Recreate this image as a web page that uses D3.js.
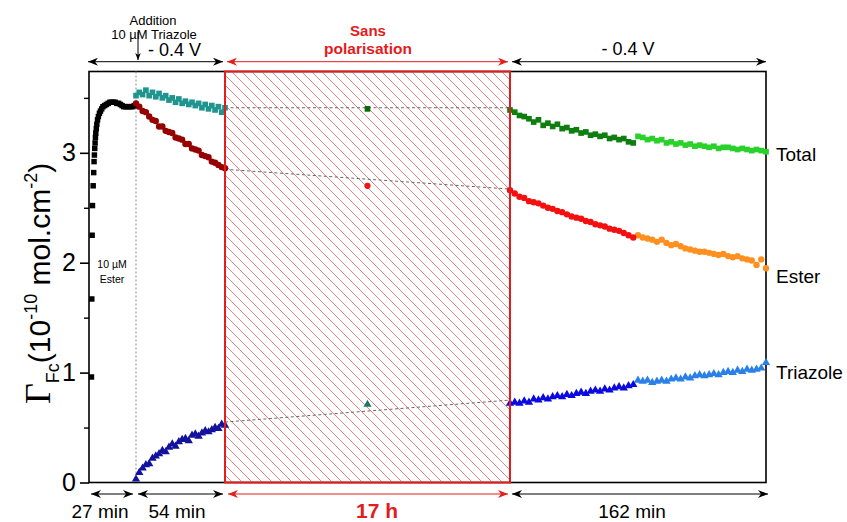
<!DOCTYPE html>
<html><head><meta charset="utf-8">
<script src="https://cdn.jsdelivr.net/npm/d3@7"></script>
<style>
body{margin:0;background:#fff}
svg{display:block;font-family:"Liberation Sans",Arial,sans-serif}
</style>
</head><body>
<svg id="chart" width="847" height="522"></svg>
<script>
// ---------------- DATA ----------------
// time axis (minutes, broken: 27 min | 54 min | 17 h | 162 min)
const segmentBreaks = [0, 27, 81, 1101, 1263];
const segmentLabels = ["27 min", "54 min", "17 h", "162 min"];
const yTicksMajor = [0, 1, 2, 3];
const yTicksMinor = [0.5, 1.5, 2.5, 3.5];
const seriesLabels = ["Total", "Ester", "Triazole"];

// 1) 10 µM Ester alone (Total)
const timeBefore = [1.4,1.6,1.8,2.0,2.4,2.7,2.9,3.1,3.3,3.5,3.7,3.9,4.2,4.5,4.9,5.4,6.0,6.6,7.3,8,9,10,11,12,13,14,15,16,17,18,19,20,21,22,23,24,25,26,27];
const totalBefore = [0.96,1.67,2.25,2.52,2.70,2.82,2.92,2.98,3.04,3.09,3.14,3.18,3.22,3.26,3.30,3.33,3.36,3.38,3.40,3.42,3.43,3.44,3.45,3.46,3.46,3.46,3.46,3.45,3.45,3.44,3.43,3.42,3.42,3.42,3.42,3.42,3.42,3.43,3.43];

// 2) after addition of 10 µM Triazole, -0.4 V (54 min)
const timeAfterAdd = [27,29,31,33,35,37,39,41,43,45,47,49,51,53,55,57,59,61,63,65,67,69,71,73,75,77,79,81];
const totalAfterAdd = [3.52,3.55,3.53,3.57,3.52,3.55,3.51,3.54,3.50,3.52,3.48,3.50,3.46,3.49,3.45,3.47,3.44,3.46,3.43,3.45,3.41,3.44,3.40,3.43,3.39,3.42,3.37,3.41];
const esterAfterAdd = [3.45,3.42,3.38,3.37,3.33,3.30,3.29,3.24,3.24,3.20,3.19,3.18,3.14,3.13,3.12,3.08,3.08,3.04,3.03,3.02,2.98,2.97,2.96,2.92,2.91,2.89,2.87,2.86];
const triazoleAfterAdd = [0.03,0.09,0.13,0.16,0.17,0.22,0.24,0.26,0.29,0.28,0.32,0.35,0.33,0.37,0.39,0.40,0.38,0.43,0.44,0.42,0.45,0.47,0.46,0.48,0.50,0.49,0.53,0.52];

// 3) 17 h without polarisation (single measurement)
const timeMid = [591];
const totalMid = [3.40];
const esterMid = [2.70];
const triazoleMid = [0.71];
const gapTime = [81, 1101];
const gapTotal = [3.41, 3.41];
const gapEster = [2.85, 2.67];
const gapTriazole = [0.55, 0.75];

// 4) -0.4 V again (162 min), first and second halves
const timeLateA = [1101,1104,1107,1110,1113,1116,1119,1122,1125,1128,1131,1134,1137,1140,1143,1146,1149,1152,1155,1158,1161,1164,1167,1170,1173,1176,1179];
const timeLateB = [1182,1185,1188,1191,1194,1197,1200,1203,1206,1209,1212,1215,1218,1221,1224,1227,1230,1233,1236,1239,1242,1245,1248,1251,1254,1257,1260,1263];
const totalLateA = [3.39,3.37,3.34,3.33,3.31,3.28,3.30,3.25,3.27,3.24,3.26,3.22,3.23,3.20,3.21,3.18,3.19,3.16,3.17,3.15,3.16,3.13,3.14,3.12,3.13,3.10,3.09];
const totalLateB = [3.15,3.14,3.12,3.13,3.11,3.12,3.09,3.10,3.08,3.09,3.07,3.08,3.06,3.07,3.06,3.05,3.06,3.04,3.05,3.05,3.04,3.03,3.04,3.03,3.02,3.03,3.02,3.01];
const esterLateA = [2.66,2.63,2.60,2.59,2.56,2.55,2.54,2.52,2.50,2.49,2.47,2.46,2.44,2.42,2.41,2.40,2.38,2.37,2.35,2.34,2.33,2.31,2.30,2.29,2.27,2.25,2.23];
const esterLateB = [2.25,2.23,2.22,2.21,2.19,2.21,2.18,2.16,2.17,2.15,2.13,2.12,2.11,2.10,2.10,2.09,2.08,2.07,2.08,2.06,2.05,2.06,2.04,2.03,2.02,1.98,2.03,1.95];
const triazoleLateA = [0.72,0.73,0.72,0.74,0.73,0.76,0.75,0.77,0.76,0.78,0.79,0.78,0.80,0.79,0.81,0.82,0.81,0.83,0.84,0.83,0.85,0.84,0.86,0.87,0.86,0.88,0.89];
const triazoleLateB = [0.93,0.92,0.93,0.91,0.92,0.93,0.92,0.94,0.95,0.94,0.96,0.95,0.97,0.98,0.97,0.98,0.99,0.98,1.00,1.01,1.00,1.02,1.01,1.03,1.02,1.03,1.04,1.09];

// ---------------- CHART ----------------
const svg = d3.select("#chart");
const x = d3.scaleLinear().domain(segmentBreaks).range([89, 136, 225, 510, 766]);
const y = d3.scaleLinear().domain([0, 3.74]).range([482.5, 71.5]);
const yTop = y.range()[1], yBot = y.range()[0];

const defs = svg.append("defs");
const hatch = defs.append("pattern").attr("id", "hatch")
  .attr("patternUnits", "userSpaceOnUse").attr("width", 10).attr("height", 10);
hatch.append("path").attr("d", "M-1,-1 L11,11 M-3,7 L3,13 M7,-3 L13,3")
  .attr("stroke", "#e97474").attr("stroke-width", 0.9);

function arrowMarker(id, color) {
  defs.append("marker").attr("id", id).attr("viewBox", "0 0 10 8")
    .attr("refX", 10).attr("refY", 4).attr("markerWidth", 10).attr("markerHeight", 8)
    .attr("markerUnits", "userSpaceOnUse").attr("orient", "auto-start-reverse")
    .append("path").attr("d", "M0,0 L10,4 L0,8 L3,4 Z").attr("fill", color);
}
arrowMarker("ab", "#000");
arrowMarker("ar", "#e31c1c");
defs.append("marker").attr("id", "asmall").attr("viewBox", "0 0 10 8")
  .attr("refX", 10).attr("refY", 4).attr("markerWidth", 7).attr("markerHeight", 6)
  .attr("markerUnits", "userSpaceOnUse").attr("orient", "auto")
  .append("path").attr("d", "M0,0 L10,4 L0,8 L3,4 Z").attr("fill", "#000");

// plot frame
svg.append("rect").attr("x", x(0)).attr("y", yTop).attr("width", x(1263) - x(0)).attr("height", yBot - yTop)
  .attr("fill", "none").attr("stroke", "#000").attr("stroke-width", 1.6);

// hatched "sans polarisation" region
svg.append("rect").attr("x", x(81)).attr("y", yTop).attr("width", x(1101) - x(81)).attr("height", yBot - yTop)
  .attr("fill", "url(#hatch)");

// addition line
svg.append("line").attr("x1", x(27)).attr("x2", x(27)).attr("y1", yTop).attr("y2", yBot)
  .attr("stroke", "#888").attr("stroke-width", 1).attr("stroke-dasharray", "2,2");

// y axis
const yMajor = d3.axisLeft(y).tickValues(yTicksMajor).tickSize(9).tickFormat(d3.format("d")).tickPadding(4);
const gY = svg.append("g").attr("transform", `translate(${x(0)},0)`).call(yMajor);
gY.select(".domain").remove();
gY.selectAll("line").attr("stroke", "#000").attr("stroke-width", 1.6);
gY.selectAll("text").attr("font-size", 25).attr("fill", "#000").attr("font-family", "Liberation Sans, Arial, sans-serif");
const gYm = svg.append("g").attr("transform", `translate(${x(0)},0)`)
  .call(d3.axisLeft(y).tickValues(yTicksMinor).tickSize(5).tickFormat(""));
gYm.select(".domain").remove();
gYm.selectAll("line").attr("stroke", "#000").attr("stroke-width", 1.4);

// y axis title
const yt = svg.append("text").attr("transform", "translate(50,404) rotate(-90)")
  .attr("font-size", 30).attr("fill", "#000");
yt.append("tspan").attr("font-family", "Liberation Serif, Times New Roman, serif").attr("font-size", 36).text("Γ");
yt.append("tspan").attr("font-size", 18).attr("dy", 9).text("Fc");
yt.append("tspan").attr("dy", -9).text("(10");
yt.append("tspan").attr("font-size", 18).attr("dy", -13).text("-10");
yt.append("tspan").attr("dy", 13).text(" mol.cm");
yt.append("tspan").attr("font-size", 18).attr("dy", -13).text("-2");
yt.append("tspan").attr("dy", 13).text(")");

// dashed connectors across the 17 h gap
const lineGen = d3.line().x(d => x(d[0])).y(d => y(d[1]));
[gapTotal, gapEster, gapTriazole].forEach(vals => {
  svg.append("path").attr("d", lineGen(d3.zip(gapTime, vals)))
    .attr("fill", "none").attr("stroke", "#666").attr("stroke-width", 1).attr("stroke-dasharray", "3,2.5");
});

// markers
function drawSeries(times, values, type, size, color) {
  const sym = d3.symbol().type(type).size(size);
  svg.append("g").selectAll("path").data(d3.zip(times, values)).join("path")
    .attr("transform", d => `translate(${x(d[0])},${y(d[1])})`)
    .attr("d", sym).attr("fill", color);
}
const SQ = d3.symbolSquare, CI = d3.symbolCircle, TR = d3.symbolTriangle;
drawSeries(timeBefore, totalBefore, SQ, 30, "#000");
drawSeries(timeAfterAdd, totalAfterAdd, SQ, 32, "#20958f");
drawSeries(timeAfterAdd, esterAfterAdd, CI, 32, "#960000");
drawSeries(timeAfterAdd, triazoleAfterAdd, TR, 30, "#12129e");
drawSeries(timeMid, totalMid, SQ, 32, "#0a6a0a");
drawSeries(timeMid, esterMid, CI, 30, "#f01515");
drawSeries(timeMid, triazoleMid, TR, 28, "#1a7a6a");
drawSeries(timeLateB, totalLateB, SQ, 32, "#2bd12b");
drawSeries(timeLateA, totalLateA, SQ, 32, "#0e7e0e");
drawSeries(timeLateB, esterLateB, CI, 32, "#ff9020");
drawSeries(timeLateA, esterLateA, CI, 32, "#f41010");
drawSeries(timeLateB, triazoleLateB, TR, 30, "#2a80e8");
drawSeries(timeLateA, triazoleLateA, TR, 30, "#0a0ae0");

// red box border
svg.append("rect").attr("x", x(81)).attr("y", yTop).attr("width", x(1101) - x(81)).attr("height", yBot - yTop)
  .attr("fill", "none").attr("stroke", "#e31c1c").attr("stroke-width", 2);

// series labels at right
const lastVals = [totalLateB[totalLateB.length - 1], esterLateB[esterLateB.length - 1], triazoleLateB[triazoleLateB.length - 1]];
const labelOffsets = [-0.02, -0.07, -0.09];
svg.append("g").selectAll("text").data(seriesLabels).join("text")
  .attr("x", x(1263) + 10).attr("y", (d, i) => y(lastVals[i] + labelOffsets[i]))
  .attr("dy", "0.35em").attr("font-size", 19).attr("fill", "#000").text(d => d);

// top arrows
function dblArrow(x1, x2, yy, marker, color) {
  svg.append("line").attr("x1", x1).attr("x2", x2).attr("y1", yy).attr("y2", yy)
    .attr("stroke", color).attr("stroke-width", 1)
    .attr("marker-start", `url(#${marker})`).attr("marker-end", `url(#${marker})`);
}
dblArrow(x(0) - 1, x(81) - 2, 61.7, "ab", "#000");
dblArrow(x(81) + 2, x(1101) - 2, 61.7, "ar", "#e31c1c");
dblArrow(x(1101) + 2, x(1263), 61.7, "ab", "#000");

svg.append("line").attr("x1", x(27) + 2).attr("x2", x(27) + 2).attr("y1", 32).attr("y2", 60)
  .attr("stroke", "#000").attr("stroke-width", 1).attr("marker-end", "url(#asmall)");
svg.append("text").attr("x", 153).attr("y", 25).attr("text-anchor", "middle").attr("font-size", 13).text("Addition");
svg.append("text").attr("x", 154).attr("y", 39).attr("text-anchor", "middle").attr("font-size", 13).text("10 µM Triazole");
svg.append("text").attr("x", 174.5).attr("y", 56).attr("text-anchor", "middle").attr("font-size", 18).text("- 0.4 V");
svg.append("text").attr("x", 628).attr("y", 55).attr("text-anchor", "middle").attr("font-size", 18).text("- 0.4 V");
svg.append("text").attr("x", 368).attr("y", 35.5).attr("text-anchor", "middle").attr("font-size", 15)
  .attr("font-weight", "bold").attr("fill", "#e31c1c").text("Sans");
svg.append("text").attr("x", 368).attr("y", 54).attr("text-anchor", "middle").attr("font-size", 15.5)
  .attr("font-weight", "bold").attr("fill", "#e31c1c").text("polarisation");

// small in-plot note
svg.append("text").attr("x", 112).attr("y", 268).attr("text-anchor", "middle").attr("font-size", 10.5).text("10 µM");
svg.append("text").attr("x", 112).attr("y", 282.5).attr("text-anchor", "middle").attr("font-size", 10.5).text("Ester");

// bottom duration arrows & labels
const bottomSegs = [
  {a: 0, b: 27, pad1: 2, pad2: -3, m: "ab", c: "#000", lab: segmentLabels[0], cx: 100, fs: 19, bold: false},
  {a: 27, b: 81, pad1: 2, pad2: -2, m: "ab", c: "#000", lab: segmentLabels[1], cx: 177, fs: 19, bold: false},
  {a: 81, b: 1101, pad1: 3, pad2: -2, m: "ar", c: "#e31c1c", lab: segmentLabels[2], cx: 377, fs: 21, bold: true},
  {a: 1101, b: 1263, pad1: 2, pad2: 2, m: "ab", c: "#000", lab: segmentLabels[3], cx: 632, fs: 19, bold: false}
];
bottomSegs.forEach(s => {
  dblArrow(x(s.a) + s.pad1, x(s.b) + s.pad2, 494, s.m, s.c);
  svg.append("text").attr("x", s.cx).attr("y", 517.5).attr("text-anchor", "middle")
    .attr("font-size", s.fs).attr("font-weight", s.bold ? "bold" : "normal").attr("fill", s.c).text(s.lab);
});
</script>
</body></html>
